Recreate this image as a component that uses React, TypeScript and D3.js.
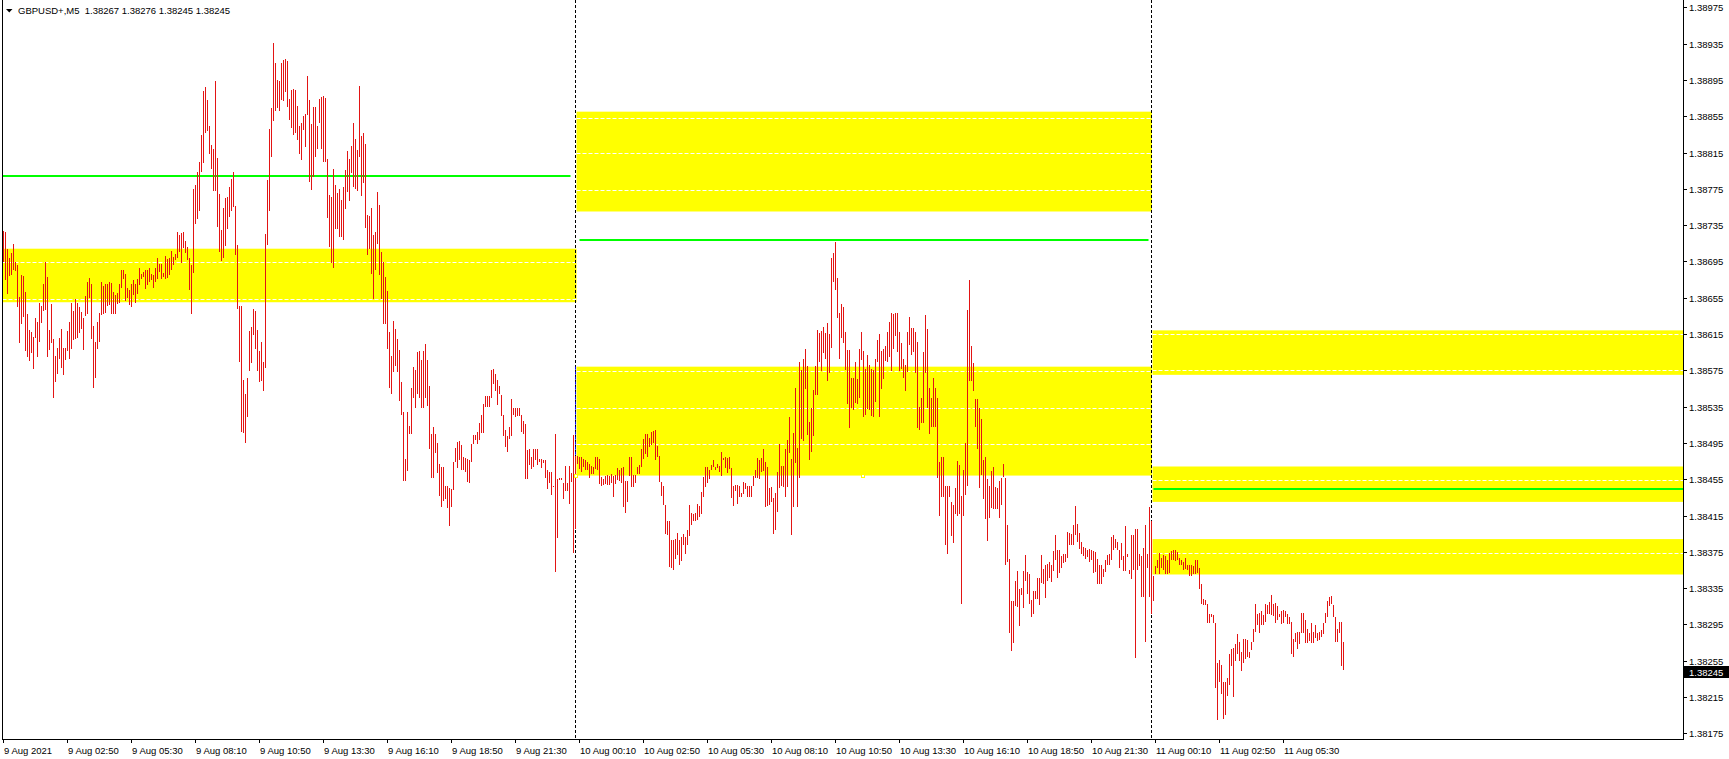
import React from 'react';
import * as d3 from 'd3';

const W = 1729;
const H = 759;

// Bar highs / lows in price points (1e-5), one entry per M5 bar
const highPts = [
138728,138727,138709,138699,138704,138714,138694,138691,138656,138680,
138679,138661,138637,138619,138617,138612,138633,138628,138649,138646,
138670,138694,138678,138619,138648,138609,138591,138600,138611,138621,
138600,138600,138618,138628,138649,138640,138654,138649,138645,138639,
138633,138657,138672,138677,138670,138624,138606,138628,138638,138672,
138668,138670,138670,138672,138671,138661,138658,138660,138670,138686,
138686,138681,138666,138663,138670,138674,138670,138676,138688,138681,
138683,138685,138685,138688,138681,138680,138688,138699,138692,138692,
138682,138701,138698,138699,138707,138700,138703,138727,138724,138726,
138727,138717,138711,138699,138691,138775,138779,138794,138805,138834,
138883,138887,138873,138844,138823,138819,138894,138809,138769,138730,
138754,138765,138766,138777,138786,138794,138756,138713,138646,138646,
138564,138549,138567,138618,138623,138643,138640,138619,138596,138606,
138584,138725,138785,138841,138864,138936,138914,138895,138894,138914,
138917,138918,138916,138874,138884,138885,138884,138866,138844,138847,
138855,138857,138899,138873,138846,138865,138865,138844,138874,138876,
138877,138875,138808,138768,138766,138797,138779,138770,138775,138763,
138777,138796,138817,138808,138822,138848,138830,138818,138888,138833,
138837,138824,138746,138745,138754,138724,138727,138771,138757,138705,
138694,138678,138662,138617,138591,138629,138621,138609,138597,138562,
138529,138477,138529,138514,138556,138579,138575,138595,138596,138586,
138596,138604,138586,138558,138505,138513,138505,138495,138472,138468,
138468,138447,138447,138445,138444,138474,138489,138496,138497,138493,
138480,138478,138477,138476,138494,138504,138504,138507,138517,138526,
138538,138547,138547,138547,138575,138576,138571,138564,138558,138548,
138526,138509,138503,138513,138543,138534,138533,138533,138533,138526,
138519,138516,138487,138488,138480,138488,138488,138488,138477,138477,
138476,138476,138465,138463,138463,138448,138505,138455,138456,138456,
138451,138470,138451,138469,138462,138504,138481,138481,138479,138479,
138477,138476,138474,138472,138469,138468,138479,138479,138477,138457,
138455,138458,138460,138458,138461,138458,138460,138467,138465,138467,
138468,138453,138453,138479,138479,138460,138460,138468,138471,138488,
138499,138505,138505,138500,138507,138508,138509,138492,138481,138452,
138448,138427,138409,138409,138388,138388,138389,138396,138388,138391,
138395,138391,138399,138427,138418,138417,138418,138428,138426,138441,
138457,138468,138468,138465,138471,138476,138468,138472,138470,138485,
138478,138480,138478,138480,138467,138448,138449,138449,138447,138440,
138452,138451,138447,138447,138447,138459,138465,138478,138476,138478,
138488,138474,138468,138445,138446,138434,138440,138463,138494,138469,
138470,138488,138498,138524,138477,138506,138555,138489,138584,138575,
138588,138598,138580,138518,138534,138553,138580,138619,138616,138618,
138623,138616,138627,138615,138699,138704,138716,138677,138638,138648,
138645,138617,138597,138597,138566,138567,138584,138565,138599,138617,
138596,138576,138592,138581,138576,138575,138587,138608,138615,138596,
138598,138602,138617,138628,138638,138637,138638,138638,138617,138605,
138587,138581,138617,138634,138622,138622,138617,138606,138535,138545,
138595,138636,138621,138555,138545,138566,138556,138545,138474,138480,
138479,138447,138447,138447,138430,138427,138445,138475,138471,138436,
138465,138495,138641,138674,138602,138583,138543,138543,138533,138521,
138476,138480,138455,138447,138464,138468,138446,138445,138453,138456,
138472,138456,138404,138367,138321,138321,138343,138354,138334,138335,
138354,138372,138353,138351,138322,138332,138332,138346,138346,138372,
138356,138361,138362,138364,138361,138376,138394,138377,138377,138370,
138373,138373,138397,138396,138395,138404,138425,138406,138396,138386,
138380,138379,138377,138378,138377,138376,138375,138367,138361,138361,
138356,138366,138371,138373,138391,138393,138389,138386,138377,138385,
138370,138403,138373,138355,138394,138393,138400,138400,138373,138370,
138379,138404,138373,138424,138409,138348,138359,138366,138374,138368,
138372,138370,138366,138374,138376,138377,138377,138375,138368,138366,
138364,138368,138361,138361,138360,138359,138366,138366,138357,138339,
138323,138322,138318,138306,138307,138305,138297,138253,138256,138250,
138232,138231,138236,138262,138268,138269,138273,138284,138276,138265,
138279,138279,138278,138265,138276,138290,138317,138307,138308,138310,
138305,138318,138316,138320,138327,138317,138319,138315,138307,138310,
138311,138310,138306,138303,138298,138279,138286,138287,138287,138308,
138308,138300,138290,138286,138296,138287,138294,138285,138287,138289,
138297,138308,138321,138325,138326,138316,138303,138290,138298,138298,
138276
];

const lowPts = [
138694,138675,138659,138679,138680,138685,138684,138645,138605,138626,
138634,138596,138590,138585,138594,138576,138611,138590,138606,138627,
138640,138641,138590,138597,138605,138545,138562,138571,138587,138578,
138570,138586,138596,138588,138599,138608,138610,138611,138616,138620,
138597,138635,138637,138655,138609,138555,138567,138598,138606,138636,
138637,138638,138646,138647,138637,138637,138637,138648,138649,138666,
138676,138651,138655,138647,138645,138658,138649,138659,138669,138676,
138678,138665,138669,138672,138675,138666,138672,138676,138683,138676,
138678,138676,138677,138680,138686,138691,138696,138699,138705,138693,
138710,138704,138696,138664,138637,138682,138736,138742,138751,138794,
138803,138836,138839,138813,138797,138773,138773,138733,138705,138695,
138699,138712,138731,138744,138750,138755,138702,138643,138584,138507,
138506,138495,138523,138574,138583,138614,138599,138574,138562,138563,
138552,138578,138713,138750,138810,138850,138861,138864,138861,138873,
138872,138882,138865,138851,138842,138834,138836,138829,138813,138807,
138840,138821,138856,138782,138774,138788,138810,138819,138847,138819,
138805,138804,138743,138711,138693,138688,138731,138731,138722,138722,
138719,138753,138771,138762,138792,138777,138775,138773,138810,138767,
138781,138732,138702,138709,138681,138654,138686,138714,138680,138654,
138626,138626,138598,138556,138549,138573,138580,138573,138541,138526,
138453,138453,138464,138505,138505,138544,138533,138549,138544,138533,
138533,138544,138536,138488,138456,138456,138484,138462,138437,138424,
138431,138433,138423,138403,138424,138443,138474,138467,138476,138465,
138465,138463,138452,138451,138474,138494,138498,138494,138498,138506,
138506,138535,138535,138535,138545,138560,138552,138537,138549,138525,
138503,138490,138485,138499,138503,138526,138524,138525,138525,138507,
138505,138455,138455,138471,138466,138468,138476,138471,138474,138467,
138473,138456,138444,138451,138438,138446,138353,138390,138454,138454,
138433,138442,138442,138428,138452,138374,138400,138472,138466,138463,
138468,138465,138465,138456,138461,138461,138466,138465,138450,138448,
138449,138450,138449,138449,138451,138435,138450,138454,138453,138451,
138424,138418,138430,138459,138446,138446,138451,138461,138461,138468,
138477,138483,138479,138490,138493,138495,138476,138479,138452,138437,
138427,138395,138394,138358,138357,138355,138367,138372,138361,138365,
138382,138373,138383,138392,138404,138409,138409,138410,138413,138417,
138435,138446,138451,138455,138465,138468,138465,138467,138463,138459,
138476,138467,138462,138466,138434,138425,138442,138428,138435,138435,
138439,138444,138435,138435,138435,138447,138456,138456,138455,138463,
138464,138424,138425,138427,138430,138395,138399,138419,138445,138448,
138446,138435,138446,138484,138394,138424,138473,138424,138456,138499,
138497,138554,138504,138476,138485,138503,138548,138548,138584,138574,
138594,138588,138563,138572,138600,138672,138663,138633,138588,138611,
138605,138575,138538,138511,138534,138531,138539,138538,138545,138586,
138523,138526,138532,138531,138525,138524,138540,138584,138524,138554,
138565,138585,138584,138590,138574,138598,138613,138595,138574,138576,
138566,138552,138573,138603,138592,138595,138572,138511,138509,138517,
138517,138572,138534,138505,138512,138512,138512,138456,138414,138435,
138435,138382,138373,138435,138392,138385,138417,138414,138417,138318,
138415,138438,138448,138563,138563,138552,138512,138488,138445,138460,
138433,138411,138387,138412,138423,138422,138422,138422,138412,138427,
138457,138360,138364,138286,138266,138275,138315,138314,138293,138327,
138313,138343,138328,138318,138303,138307,138323,138323,138316,138341,
138339,138324,138343,138346,138342,138354,138366,138346,138352,138357,
138363,138364,138368,138382,138382,138383,138393,138386,138378,138373,
138370,138367,138369,138364,138366,138352,138353,138339,138339,138339,
138347,138353,138361,138361,138366,138377,138379,138377,138357,138366,
138354,138354,138369,138351,138345,138355,138258,138355,138359,138325,
138325,138276,138357,138325,138306,138321,138350,138357,138350,138357,
138355,138350,138351,138352,138366,138366,138365,138366,138361,138360,
138355,138356,138355,138348,138348,138350,138350,138352,138334,138317,
138316,138316,138296,138297,138303,138296,138225,138190,138231,138218,
138191,138195,138216,138228,138249,138215,138255,138262,138255,138244,
138253,138257,138259,138258,138267,138276,138287,138294,138285,138294,
138294,138298,138306,138307,138305,138304,138296,138300,138303,138295,
138296,138303,138295,138295,138262,138259,138276,138268,138273,138285,
138286,138275,138275,138277,138275,138275,138280,138277,138278,138281,
138284,138296,138303,138315,138317,138303,138276,138276,138285,138249,
138245
];

const priceTicks = [
  1.38975, 1.38935, 1.38895, 1.38855, 1.38815, 1.38775, 1.38735, 1.38695, 1.38655, 1.38615, 1.38575,
  1.38535, 1.38495, 1.38455, 1.38415, 1.38375, 1.38335, 1.38295, 1.38255, 1.38215, 1.38175,
];

const timeLabels = [
  '9 Aug 2021', '9 Aug 02:50', '9 Aug 05:30', '9 Aug 08:10', '9 Aug 10:50', '9 Aug 13:30', '9 Aug 16:10',
  '9 Aug 18:50', '9 Aug 21:30', '10 Aug 00:10', '10 Aug 02:50', '10 Aug 05:30', '10 Aug 08:10',
  '10 Aug 10:50', '10 Aug 13:30', '10 Aug 16:10', '10 Aug 18:50', '10 Aug 21:30', '11 Aug 00:10',
  '11 Aug 02:50', '11 Aug 05:30',
];
const labelEveryBars = 32;

// Day separators (bar index)
const separators = [286, 574];

// Zones (supply / demand rectangles): bar range and price range
const zoneFrom = [-0.5, 286.5, 286.5, 574.5, 574.5, 574.5];
const zoneTo = [286.5, 574.2, 574.2, 9999, 9999, 9999];
const zoneHigh = [1.38709, 1.3886, 1.38579, 1.38619, 1.38469, 1.38389];
const zoneLow = [1.3865, 1.3875, 1.38459, 1.3857, 1.3843, 1.3835];
const zoneLines = [
  [1.38694, 1.38654],
  [1.38853, 1.38814, 1.38774],
  [1.38574, 1.38533, 1.38494],
  [1.38615, 1.38575],
  [1.38454],
  [1.38374],
];

// Green level lines
const greenPrice = [1.38789, 1.38719, 1.38444];
const greenFrom = [-0.5, 288, 575];
const greenTo = [283.5, 572.5, 9999];

// small anchor markers (bar index, price)
const markerBar = [286, 430];
const markerPrice = [1.38459, 1.38459];

const symbolText = 'GBPUSD+,M5  1.38267 1.38276 1.38245 1.38245';
const lastPrice = 1.38245;

const FONT = "'Liberation Sans', Arial, sans-serif";

export default function App() {
  const left = 2;
  const right = 1683;
  const bottom = 739;

  const n = Math.min(highPts.length, lowPts.length);
  const x = d3.scaleLinear().domain([0, 670]).range([3.5, 1343.5]);
  const y = d3.scaleLinear().domain([1.38175, 1.38975]).range([733.3, 7.3]);

  const cx = (v: number) => Math.max(left, Math.min(right, x(v)));

  const bars = d3.range(n).map((i) => {
    const hi = highPts[i] / 1e5;
    const lo = lowPts[i] / 1e5;
    const y1 = Math.round(y(hi));
    const y2 = Math.round(y(lo));
    return { i, x: Math.round(x(i) - 0.5), y: y1, h: Math.max(1, y2 - y1) };
  });

  // first separator passes through zone C -> drawn blue there
  const zc = 2;

  return (
    <svg
      width={W}
      height={H}
      style={{ position: 'absolute', left: 0, top: 0, background: '#fff' }}
      fontFamily={FONT}
    >
      <rect x={0} y={0} width={W} height={H} fill="#fff" />

      {/* zones */}
      {zoneHigh.map((zh, zi) => {
        const x1 = cx(zoneFrom[zi]);
        const x2 = cx(zoneTo[zi]);
        const yt = y(zh);
        const yb = y(zoneLow[zi]);
        return (
          <g key={'z' + zi}>
            <rect x={x1} y={yt} width={x2 - x1} height={yb - yt} fill="#ffff00" />
            {zoneLines[zi].map((p, li) => (
              <line
                key={li}
                x1={x1}
                x2={x2}
                y1={Math.round(y(p)) + 0.5}
                y2={Math.round(y(p)) + 0.5}
                stroke="#fff"
                strokeWidth={1}
                strokeDasharray="4,2"
              />
            ))}
          </g>
        );
      })}

      {/* green levels */}
      {greenPrice.map((p, gi) => (
        <line
          key={'g' + gi}
          x1={cx(greenFrom[gi])}
          x2={cx(greenTo[gi])}
          y1={Math.round(y(p))}
          y2={Math.round(y(p))}
          stroke="#00ff00"
          strokeWidth={2}
        />
      ))}

      {/* separators */}
      {separators.map((s, si) => (
        <line
          key={'s' + si}
          x1={Math.round(x(s)) - 0.5}
          x2={Math.round(x(s)) - 0.5}
          y1={0}
          y2={bottom}
          stroke="#000"
          strokeWidth={1}
          strokeDasharray="3,2"
        />
      ))}
      <line
        x1={Math.round(x(separators[0])) - 0.5}
        x2={Math.round(x(separators[0])) - 0.5}
        y1={y(zoneHigh[zc])}
        y2={y(zoneLow[zc])}
        stroke="#0000ff"
        strokeWidth={1}
        strokeDasharray="3,2"
      />

      {/* bars */}
      <g fill="#e31414">
        {bars.map((b) => (
          <rect key={b.i} x={b.x} y={b.y} width={1} height={b.h} />
        ))}
      </g>

      {/* anchor markers */}
      {markerBar.map((mb, mi) => (
        <rect
          key={'m' + mi}
          x={Math.round(x(mb)) - 1.5}
          y={Math.round(y(markerPrice[mi])) - 1.5}
          width={3}
          height={3}
          fill="#fff"
          stroke="#ffff00"
          strokeWidth={1}
        />
      ))}

      {/* frame */}
      <line x1={left + 0.5} x2={left + 0.5} y1={0} y2={bottom + 0.5} stroke="#000" />
      <line x1={left} x2={right + 0.5} y1={bottom + 0.5} y2={bottom + 0.5} stroke="#000" />
      <line x1={right + 0.5} x2={right + 0.5} y1={0} y2={bottom + 1} stroke="#000" />

      {/* price axis */}
      {priceTicks.map((p) => {
        const ty = Math.round(y(p)) + 0.5;
        return (
          <g key={'p' + p}>
            <line x1={right} x2={right + 4} y1={ty} y2={ty} stroke="#000" />
            <text x={right + 6} y={ty + 3.5} fontSize={9.5} fill="#000">
              {p.toFixed(5)}
            </text>
          </g>
        );
      })}
      <rect x={right + 1} y={Math.round(y(lastPrice)) - 4} width={W - right - 1} height={12} fill="#000" />
      <text x={right + 6} y={Math.round(y(lastPrice)) + 5.5} fontSize={9.5} fill="#fff">
        {lastPrice.toFixed(5)}
      </text>

      {/* time axis */}
      {timeLabels.map((t, ti) => {
        const tx = Math.round(x(ti * labelEveryBars)) - 0.5;
        return (
          <g key={'t' + ti}>
            <line x1={tx} x2={tx} y1={bottom} y2={bottom + 4} stroke="#000" />
            <text x={tx + 0.5} y={754} fontSize={9.5} fill="#000">
              {t}
            </text>
          </g>
        );
      })}

      {/* header */}
      <polygon points="6,9 12.5,9 9.25,12.5" fill="#000" />
      <text x={18} y={13.5} fontSize={9.5} fill="#000" style={{ whiteSpace: 'pre' }}>
        {symbolText}
      </text>
    </svg>
  );
}
